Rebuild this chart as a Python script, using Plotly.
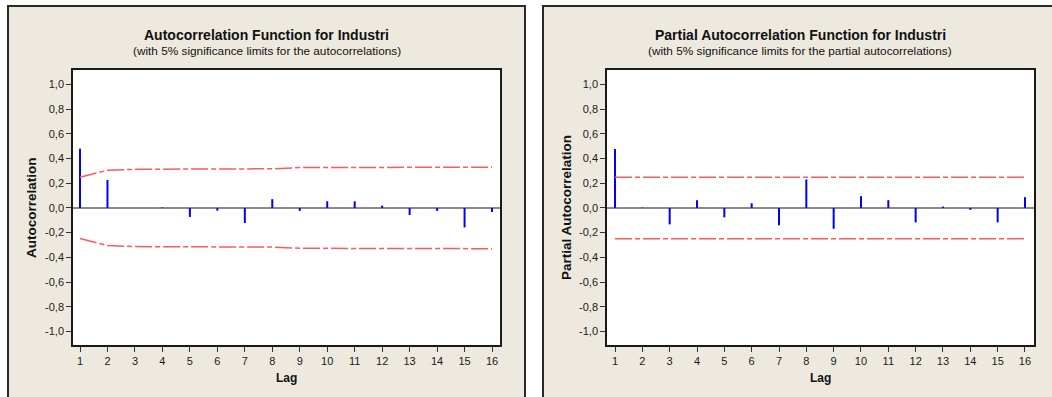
import plotly.graph_objects as go

# ---------------- data ----------------
lags = list(range(1, 17))
acf_values = [0.479, 0.226, 0.0, 0.004, -0.073, -0.022, -0.122, 0.071,
              -0.024, 0.054, 0.054, 0.019, -0.057, -0.024, -0.158, -0.033]
acf_limit = [0.248, 0.305, 0.313, 0.313, 0.313, 0.313, 0.314, 0.317,
             0.327, 0.327, 0.328, 0.328, 0.328, 0.329, 0.329, 0.330]
pacf_values = [0.477, 0.003, -0.133, 0.063, -0.076, 0.038, -0.141, 0.231,
               -0.169, 0.095, 0.063, -0.117, 0.011, -0.016, -0.117, 0.087]
pacf_limit = [0.249] * 16
y_tick_vals = [-1.0, -0.8, -0.6, -0.4, -0.2, 0.0, 0.2, 0.4, 0.6, 0.8, 1.0]
y_tick_text = ["-1,0", "-0,8", "-0,6", "-0,4", "-0,2", "0,0", "0,2", "0,4", "0,6", "0,8", "1,0"]
x_tick_text = [str(l) for l in lags]

titles = ["Autocorrelation Function for Industri",
          "Partial Autocorrelation Function for Industri"]
subtitles = ["(with 5% significance limits for the autocorrelations)",
             "(with 5% significance limits for the partial autocorrelations)"]
y_titles = ["Autocorrelation", "Partial Autocorrelation"]
x_title = "Lag"

# ---------------- layout geometry (pixels) ----------------
W, H = 1052, 397
def px(x):
    return x / W
def py(y):
    return 1 - y / H

BEIGE = "#EDE9DF"
FONT = "Liberation Sans"

fig = go.Figure()

def stems(values):
    xs, ys = [], []
    for l, v in zip(lags, values):
        xs += [l, l, None]
        ys += [0, v, None]
    return xs, ys

panels = [
    dict(vals=acf_values, lim=acf_limit, xa="x", ya="y",
         dom_x=(73, 500), xr=[0.745, 16.29], panel=(8, 525), ytx=31),
    dict(vals=pacf_values, lim=pacf_limit, xa="x2", ya="y2",
         dom_x=(607, 1034), xr=[0.707, 16.33], panel=(543, 1057), ytx=566),
]

shapes = []
annotations = []
for i, p in enumerate(panels):
    sx, sy = stems(p["vals"])
    fig.add_trace(go.Scatter(x=sx, y=sy, mode="lines", xaxis=p["xa"], yaxis=p["ya"],
                             line=dict(color="#0000FF", width=2), showlegend=False,
                             hoverinfo="skip"))
    fig.add_trace(go.Scatter(x=lags, y=p["lim"], mode="lines", xaxis=p["xa"], yaxis=p["ya"],
                             line=dict(color="#FF5A5A", width=1.5, dash="17px,3px,5px,3px"),
                             showlegend=False))
    fig.add_trace(go.Scatter(x=lags, y=[-v for v in p["lim"]], mode="lines",
                             xaxis=p["xa"], yaxis=p["ya"],
                             line=dict(color="#FF5A5A", width=1.5, dash="17px,3px,5px,3px"),
                             showlegend=False))
    # panel background
    shapes.append(dict(type="rect", xref="paper", yref="paper",
                       x0=px(p["panel"][0]), x1=px(p["panel"][1]),
                       y0=py(410), y1=py(6), fillcolor=BEIGE,
                       line=dict(color="#2a2a2a", width=2), layer="below"))
    shapes.append(dict(type="rect", xref="paper", yref="paper",
                       x0=px(p["dom_x"][0]), x1=px(p["dom_x"][1]),
                       y0=py(345), y1=py(70), fillcolor="white",
                       line=dict(width=0), layer="below"))
    cx = (p["panel"][0] + p["panel"][1]) / 2
    annotations.append(dict(text="<b>" + titles[i] + "</b>", x=px(cx), y=py(35),
                            xref="paper", yref="paper", showarrow=False,
                            xanchor="center", yanchor="middle",
                            font=dict(family=FONT, size=14, color="#111")))
    annotations.append(dict(text=subtitles[i], x=px(cx), y=py(51.5),
                            xref="paper", yref="paper", showarrow=False,
                            xanchor="center", yanchor="middle",
                            font=dict(family=FONT, size=11.8, color="#111")))
    annotations.append(dict(text="<b>" + y_titles[i] + "</b>", x=px(p["ytx"]), y=py(208),
                            xref="paper", yref="paper", showarrow=False, textangle=-90,
                            xanchor="center", yanchor="middle",
                            font=dict(family=FONT, size=13.5, color="#111")))
    annotations.append(dict(text="<b>" + x_title + "</b>",
                            x=px((p["dom_x"][0] + p["dom_x"][1]) / 2), y=py(378),
                            xref="paper", yref="paper", showarrow=False,
                            xanchor="center", yanchor="middle",
                            font=dict(family=FONT, size=12, color="#111")))

axis_common = dict(showgrid=False, showline=True, mirror=True, linecolor="#1a1a1a",
                   linewidth=1.5, ticks="outside", ticklen=5, tickwidth=1,
                   tickcolor="#333", tickfont=dict(family=FONT, size=11, color="#1a1a1a"))

fig.update_layout(
    width=W, height=H, margin=dict(l=0, r=0, t=0, b=0),
    paper_bgcolor="white", plot_bgcolor="rgba(0,0,0,0)",
    shapes=shapes, annotations=annotations, showlegend=False,
    xaxis=dict(domain=[px(73), px(500)], range=panels[0]["xr"], anchor="y",
               tickvals=lags, ticktext=x_tick_text, zeroline=False, **axis_common),
    yaxis=dict(domain=[py(345), py(70)], range=[-1.11, 1.117], anchor="x",
               tickvals=y_tick_vals, ticktext=y_tick_text, zeroline=True,
               zerolinecolor="#8a8a8a", zerolinewidth=2, **axis_common),
    xaxis2=dict(domain=[px(607), px(1034)], range=panels[1]["xr"], anchor="y2",
                tickvals=lags, ticktext=x_tick_text, zeroline=False, **axis_common),
    yaxis2=dict(domain=[py(345), py(70)], range=[-1.11, 1.117], anchor="x2",
                tickvals=y_tick_vals, ticktext=y_tick_text, zeroline=True,
                zerolinecolor="#8a8a8a", zerolinewidth=2, **axis_common),
)

fig.write_html("out.html")
